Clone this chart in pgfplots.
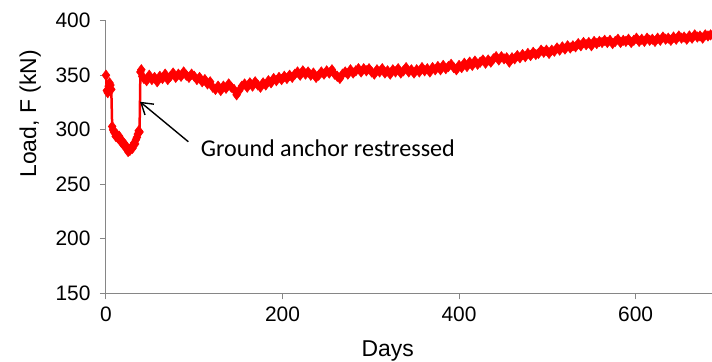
\documentclass[border=0pt]{standalone}
\usepackage{fontspec}
\setmainfont{Liberation Sans}
\newfontfamily\carlito{Carlito}
\usepackage{pgfplots}
\pgfplotsset{compat=1.18}
\usetikzlibrary{arrows.meta}
\definecolor{axgray}{HTML}{868686}
\begin{document}
\begin{tikzpicture}
\useasboundingbox (-106bp,-68.7bp) rectangle (606bp,293.3bp);
\begin{axis}[
  at={(0,0)}, anchor=south west,
  scale only axis, width=606bp, height=272.6bp,
  xmin=0, xmax=686.6, ymin=150, ymax=400,
  axis x line=bottom, axis y line=left,
  axis line style={axgray, line width=1bp, -},
  xtick={0,200,400,600}, ytick={150,200,250,300,350,400},
  minor tick num=0,
  tick align=outside, major tick length=6bp,
  tick style={axgray, line width=1bp},
  /pgf/number format/assume math mode=true,
  tick label style={font=\fontsize{21}{25}\selectfont, text=black},
  xticklabel style={yshift=-4bp},
  yticklabel style={xshift=-6bp},
  xlabel={Days}, ylabel={Load, F (kN)},
  label style={font=\fontsize{23}{27}\selectfont},
  xlabel style={at={(axis description cs:0.465,-0.2326)}, anchor=base},
  ylabel style={at={(axis description cs:-0.1155,0.658)}, anchor=base, rotate=0},
  clip=false,
]
\addplot[red, line width=2.5bp, mark=diamond*, mark size=5.2bp, mark options={fill=red, draw=red, line width=0.5bp}] coordinates {
(0,350)(1,336)(2,334)(3,340)(4,343)(5,341)(6,337)(7,303)(8,300)(9,298)
(10,297)(11,294)(12,296)(13,293)(14,292)(15,294)(16,291)(17,289)(18,290)(19,287)
(20,288)(21,285)(22,286)(23,283)(24,282)(25,280)(26,282)(27,281)(28,283)(29,284)
(30,283)(31,286)(32,288)(33,287)(34,291)(35,293)(36,296)(37,299)(38,298)(39,353)
(40,355)(41,349)(43,347)(46,345)(49,350)(52,346)(55,348)(58,344)(61,349)(64,347)
(67,351)(70,346)(73,349)(76,352)(79,348)(82,351)(85,349)(88,353)(91,350)(94,348)
(97,351)(100,349)(103,346)(106,348)(109,344)(112,346)(115,342)(118,344)(121,339)(124,337)
(127,340)(130,336)(133,340)(136,338)(139,342)(142,339)(145,337)(148,332)(151,336)(154,340)
(157,342)(160,339)(163,343)(166,340)(169,344)(172,341)(175,339)(178,343)(181,341)(184,345)
(187,343)(190,347)(193,345)(196,348)(199,346)(202,349)(205,347)(208,350)(211,348)(214,351)
(217,353)(220,350)(223,354)(226,351)(229,353)(232,350)(235,352)(238,348)(241,350)(244,353)
(247,351)(250,354)(253,352)(256,355)(259,351)(262,349)(265,347)(268,351)(271,353)(274,351)
(277,355)(280,352)(283,354)(286,356)(289,353)(292,356)(295,354)(298,356)
(301,353)(304,351)(307,355)(310,353)(313,356)(316,352)(319,354)(322,351)(325,355)(328,353)
(331,356)(334,352)(337,354)(340,357)(343,353)(346,355)(349,352)(352,355)(355,353)(358,357)
(361,354)(364,356)(367,353)(370,357)(373,355)(376,358)(379,355)(382,359)(385,356)(388,358)
(391,360)(394,357)(397,355)(400,359)(403,357)(406,361)(409,358)(412,362)(415,359)(418,363)
(421,360)(424,362)(427,364)(430,361)(433,364)(436,362)(439,365)(442,367)(445,364)(448,367)
(451,365)(454,366)(457,362)(460,366)(463,365)(466,368)(469,366)(472,369)(475,367)(478,370)
(481,368)(484,371)(487,369)(490,370)(493,373)(496,371)(499,373)(502,370)(505,373)(508,372)
(511,375)(514,373)(517,376)(520,374)(523,377)(526,375)(529,377)(532,376)(535,379)(538,377)
(541,380)(544,378)(547,380)(550,377)(553,381)(556,379)(559,381)(562,380)(565,382)(568,380)
(571,382)(574,379)(577,381)(580,383)(583,380)(586,382)(589,381)(592,383)(595,380)(598,382)
(601,384)(604,381)(607,383)(610,381)(613,384)(616,382)(619,383)(622,381)(625,384)(628,382)
(631,385)(634,383)(637,384)(640,382)(643,385)(646,383)(649,386)(652,384)(655,385)(658,383)
(661,386)(664,384)(667,387)(670,385)(673,386)(676,384)(679,387)(682,386)(685,387)
};
\draw[black, line width=1.4bp, -{Straight Barb[length=11bp,width=14bp,line width=1.4bp]}]
  (axis cs:93.3,289) -- (axis cs:38.5,325.7);
\node[anchor=base west, inner sep=0pt, font=\carlito\fontsize{24.2}{28}\selectfont]
  at (axis cs:107.3,275.9) {Ground anchor restressed};
\end{axis}
\end{tikzpicture}
\end{document}
